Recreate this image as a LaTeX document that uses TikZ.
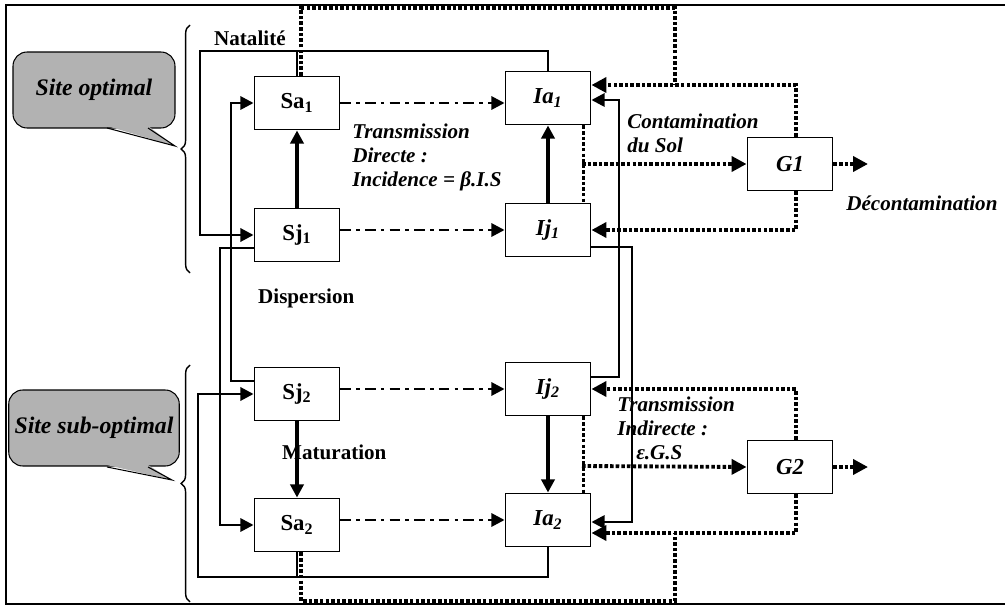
\documentclass[tikz,border=0pt]{standalone}
\usepackage{fontspec}
\setmainfont{Liberation Serif}
\usetikzlibrary{arrows.meta,calc,decorations.pathreplacing}

\begin{document}
\begin{tikzpicture}[
    x=0.02cm, y=-0.02cm,
    every node/.style={font=\fontsize{12}{13.6}\selectfont\bfseries},
    compartiment/.style={draw, line width=1.1pt, minimum width=1.7cm, minimum height=1.06cm, inner sep=0pt, font=\fontsize{13}{15}\selectfont\bfseries},
    bulle/.style={draw, line width=0.6pt, fill=gray!60, rounded corners=0.28cm, minimum width=3.24cm, minimum height=1.52cm, font=\fontsize{13.5}{15}\selectfont\bfseries\itshape},
    texte/.style={font=\fontsize{12}{13.6}\selectfont\bfseries\itshape, align=left, inner sep=0pt},
    fleche/.style={-{Triangle[length=7.5pt,width=7.5pt]}, line width=1.5pt},
    transition/.style={fleche, line width=2pt},
    boucle/.style={fleche, line width=1.6pt},
    directe/.style={fleche, line width=1.5pt, dash pattern=on 6pt off 3pt on 2pt off 3pt},
    sol/.style={line width=2.2pt, dash pattern=on 2pt off 1.2pt},
    solfleche/.style={sol, -{Triangle[length=8.5pt,width=8.5pt]}},
    accolade/.style={decorate, decoration={brace, amplitude=5pt}, line width=0.8pt}
]
\useasboundingbox (0,0) rectangle (1005,608);
% Cadre
\draw[line width=1.3pt] (1005,5) -- (6,5) -- (6,604) -- (1005,604);
% Bulles
\node[bulle] (bulleOpt) at (94,90) {Site optimal};
\fill[gray!60] (107,126) -- (175,146) -- (148,126) -- cycle;
\draw[line width=0.6pt] (107,128) -- (175,146) -- (148,128);
\node[bulle] (bulleSub) at (94,428) {Site sub-optimal};
\fill[gray!60] (107,465) -- (172,480) -- (148,465) -- cycle;
\draw[line width=0.6pt] (107,467) -- (172,480) -- (148,467);
% Accolades
\draw[accolade] (190,273) -- (190,25);
\draw[accolade] (190,602) -- (190,365);
% Compartiments
\node[compartiment] (sa1) at (297,103) {Sa\textsubscript{1}};
\node[compartiment] (sj1) at (297,235) {Sj\textsubscript{1}};
\node[compartiment] (sj2) at (297,394) {Sj\textsubscript{2}};
\node[compartiment] (sa2) at (297,525) {Sa\textsubscript{2}};
\node[compartiment] (ia1) at (548,98) {\itshape Ia\textsubscript{1}};
\node[compartiment] (ij1) at (548,230) {\itshape Ij\textsubscript{1}};
\node[compartiment] (ij2) at (548,389) {\itshape Ij\textsubscript{2}};
\node[compartiment] (ia2) at (548,520) {\itshape Ia\textsubscript{2}};
\node[compartiment] (g1) at (790,164) {\itshape G1};
\node[compartiment] (g2) at (790,467) {\itshape G2};
% Textes
\node[anchor=west] (natalite) at (208,38) {Natalité};
\node[anchor=west] (dispersion) at (252,298) {Dispersion};
\node[anchor=west] (maturation) at (276,452) {Maturation};
\node[texte, anchor=north west] (transDir) at (352,124) {Transmission\\Directe :\\Incidence = β.I.S};
\node[texte, anchor=north west] (contam) at (627,114) {Contamination\\du Sol};
\node[texte, anchor=west] (decont) at (846,203) {Décontamination};
\node[texte, anchor=north west] (transInd) at (617,397) {Transmission\\Indirecte :\\\hspace*{0.9em}ε.G.S};
% Natalite
\draw[boucle] (ia1.north) |- (200,51) |- (sj1.west);
\draw[line width=1.6pt] (sa1.north) -- (sa1.north |- 0,51);
\draw[boucle] (ia2.south) |- (198,577) |- (sj2.west);
\draw[line width=1.6pt] (sa2.south) -- (sa2.south |- 0,577);
% Dispersion
\draw[fleche] ($(sj1.west)+(0,13)$) -| (220,400) |- (sa2.west);
\draw[fleche] ($(sj2.west)+(0,-13)$) -| (231,200) |- (sa1.west);
\draw[fleche] ($(ij1.east)+(0,17)$) -| (632,400) |- ($(ia2.east)+(0,2)$);
\draw[fleche] ($(ij2.east)+(0,-12)$) -| (619,300) |- ($(ia1.east)+(0,2)$);
% Maturation
\draw[transition] (sj1) -- (sa1);
\draw[transition] (sj2) -- (sa2);
\draw[transition] (ij1) -- (ia1);
\draw[transition] (ij2) -- (ia2);
% Transmission directe
\draw[directe] (sa1.east) -- (sa1.east -| ia1.west);
\draw[directe] (sj1.east |- ij1.west) -- (ij1.west);
\draw[directe] (sj2.east |- ij2.west) -- (ij2.west);
\draw[directe] (sa2.east |- ia2.west) -- (ia2.west);
% Sol 1
\coordinate (sol1) at (582,164);
\coordinate (noeud1) at (675,85);
\coordinate (sortie1) at (868,164);
\draw[sol] ($(ia1.south east)+(-8,0)$) -- ($(ij1.north east)+(-8,0)$);
\draw[solfleche] (sol1) -- (g1.west);
\draw[solfleche] ($(g1.north)+(6,0)$) |- ($(ia1.east)+(0,-13)$);
\draw[sol] ($(sa1.north)+(4,0)$) |- (675,8) -- (noeud1);
\draw[solfleche] ($(g1.south)+(6,0)$) |- (ij1.east);
\draw[solfleche] (g1.east) -- (sortie1);
% Sol 2
\coordinate (sol2) at (582,466);
\coordinate (noeud2) at (675,533);
\coordinate (sortie2) at (868,467);
\draw[sol] ($(ij2.south east)+(-8,0)$) -- ($(ia2.north east)+(-8,0)$);
\draw[solfleche] (sol2) -- (g2.west);
\draw[solfleche] ($(g2.north)+(6,0)$) |- (ij2.east);
\draw[solfleche] ($(g2.south)+(6,0)$) |- ($(ia2.east)+(0,13)$);
\draw[sol] ($(sa2.south)+(4,0)$) |- (675,601) -- (noeud2);
\draw[solfleche] (g2.east) -- (sortie2);
\end{tikzpicture}
\end{document}
